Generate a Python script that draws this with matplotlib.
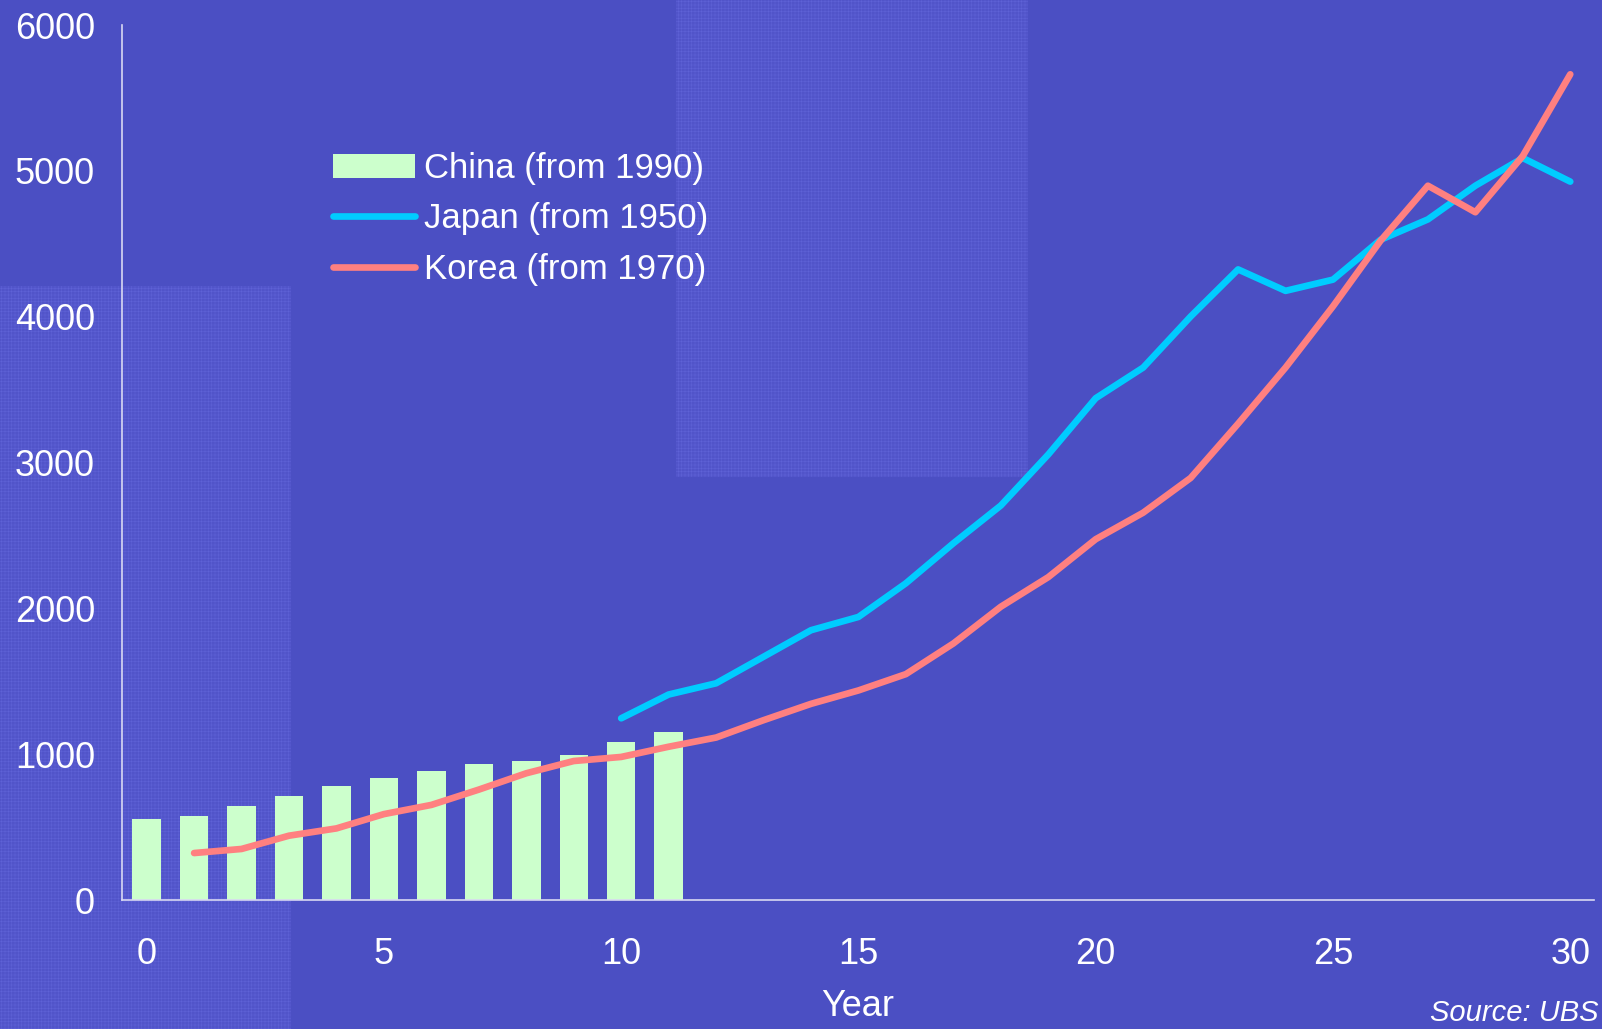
import matplotlib.pyplot as plt
from matplotlib.patches import Rectangle

# Data
years_china = list(range(0, 12))
china = [555, 576, 645, 713, 785, 834, 883, 932, 953, 994, 1084, 1152]

years_japan = list(range(10, 31))
japan = [1246, 1409, 1486, 1668, 1850, 1941, 2172, 2446, 2705, 3055, 3441,
         3651, 4001, 4324, 4177, 4254, 4527, 4667, 4898, 5088, 4926]

years_korea = list(range(1, 31))
korea = [322, 350, 441, 491, 589, 652, 757, 869, 953, 981, 1051, 1114, 1233,
         1345, 1437, 1549, 1759, 2011, 2214, 2474, 2656, 2894, 3266, 3651,
         4071, 4520, 4898, 4716, 5102, 5662]

bg = '#4B4FC3'
W, H = 1602, 1029

plt.rcParams['font.family'] = ['Liberation Sans', 'DejaVu Sans']
plt.rcParams['hatch.linewidth'] = 0.4

fig = plt.figure(figsize=(W / 100, H / 100), dpi=100, facecolor=bg)

# textured background blocks
for x0, y0, x1, y1 in [(0, 286, 291, 1029), (676, 0, 1028, 477)]:
    r = Rectangle((x0 / W, 1 - y1 / H), (x1 - x0) / W, (y1 - y0) / H,
                  transform=fig.transFigure, facecolor='#5154C9',
                  edgecolor='#5E62D6', hatch='+++++', linewidth=0, zorder=-1)
    fig.patches.append(r)

ax = fig.add_axes([121.5 / W, 1 - 900 / H, (1594 - 121.5) / W, (900 - 25) / H])
ax.set_facecolor('none')

b = ax.bar(years_china, china, width=0.6, color='#CCFFCC', label='China (from 1990)', zorder=2)
lj, = ax.plot(years_japan, japan, color='#00CCFF', linewidth=4.8, solid_capstyle='round',
              solid_joinstyle='round', label='Japan (from 1950)', zorder=3)
lk, = ax.plot(years_korea, korea, color='#FF8080', linewidth=4.8, solid_capstyle='round',
              solid_joinstyle='round', label='Korea (from 1970)', zorder=4)

ax.set_xlim(-0.53, 30.5)
ax.set_ylim(0, 6000)
ax.set_xticks(range(0, 31, 5))
ax.set_yticks(range(0, 6001, 1000))

for s in ['top', 'right']:
    ax.spines[s].set_visible(False)
for s in ['left', 'bottom']:
    ax.spines[s].set_color('#D8D8F2')
    ax.spines[s].set_linewidth(1.2)

ax.tick_params(axis='both', length=0, colors='white', labelsize=26)
ax.tick_params(axis='y', pad=19)
ax.tick_params(axis='x', pad=27)

ax.set_xlabel('Year', color='white', fontsize=26, labelpad=12)

leg = ax.legend(handles=[b, lj, lk], loc='upper left',
                bbox_to_anchor=(333 / W, 1 - 152 / H),
                bbox_transform=fig.transFigure, frameon=False, fontsize=25,
                handlelength=2.36, handleheight=0.7, handletextpad=0.25,
                labelspacing=0.5, borderpad=0, borderaxespad=0)
for t in leg.get_texts():
    t.set_color('white')

fig.text(1598 / W, 0.002, 'Source: UBS', color='white', fontsize=21, style='italic',
         ha='right', va='bottom')

plt.savefig('out.png', dpi=100, facecolor=bg)
